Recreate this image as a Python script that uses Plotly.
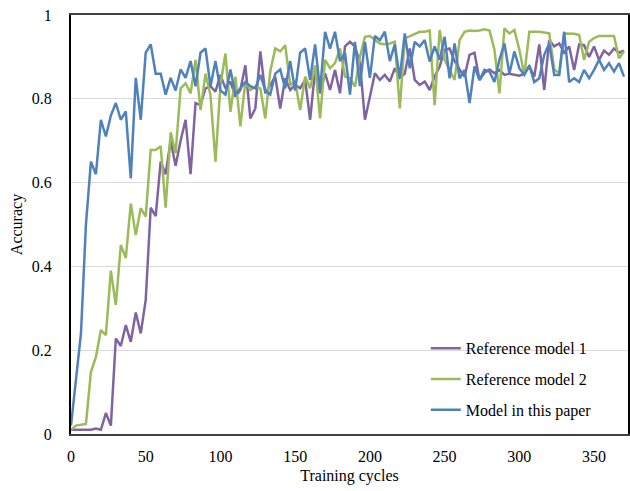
import plotly.graph_objects as go

N = 112
cycles = [round(i * 10 / 3, 2) for i in range(N)]

ref_model_1 = [
    0.01, 0.01, 0.01, 0.01, 0.01, 0.013, 0.01, 0.05, 0.02, 0.228,
    0.21, 0.26, 0.22, 0.29, 0.24, 0.32, 0.54, 0.52, 0.65, 0.62,
    0.70, 0.64, 0.70, 0.75, 0.62, 0.79, 0.785, 0.825, 0.83, 0.817,
    0.857, 0.825, 0.841, 0.805, 0.821, 0.88, 0.753, 0.777, 0.913, 0.813,
    0.833, 0.853, 0.777, 0.849, 0.821, 0.833, 0.825, 0.845, 0.75, 0.869,
    0.813, 0.861, 0.821, 0.869, 0.813, 0.925, 0.936, 0.925, 0.885, 0.75,
    0.805, 0.861, 0.845, 0.857, 0.841, 0.873, 0.85, 0.86, 0.92, 0.845,
    0.833, 0.841, 0.821, 0.853, 0.877, 0.917, 0.92, 0.89, 0.87, 0.853,
    0.905, 0.91, 0.845, 0.862, 0.87, 0.861, 0.869, 0.857, 0.86, 0.857,
    0.855, 0.86, 0.877, 0.853, 0.93, 0.821, 0.94, 0.925, 0.932, 0.91,
    0.925, 0.869, 0.93, 0.928, 0.9, 0.925, 0.893, 0.915, 0.905, 0.92,
    0.91, 0.915,
]

ref_model_2 = [
    0.01, 0.02, 0.022, 0.024, 0.148, 0.184, 0.248, 0.236, 0.39, 0.308,
    0.451, 0.42, 0.55, 0.475, 0.539, 0.519, 0.678, 0.678, 0.687, 0.54,
    0.72, 0.67, 0.825, 0.837, 0.813, 0.893, 0.773, 0.86, 0.809, 0.65,
    0.833, 0.908, 0.769, 0.853, 0.734, 0.841, 0.821, 0.829, 0.825, 0.753,
    0.865, 0.92, 0.913, 0.928, 0.833, 0.841, 0.773, 0.853, 0.825, 0.88,
    0.753, 0.893, 0.873, 0.885, 0.92, 0.853, 0.849, 0.829, 0.90, 0.948,
    0.95, 0.94, 0.932, 0.93, 0.932, 0.936, 0.777, 0.944, 0.95, 0.956,
    0.96, 0.96, 0.963, 0.785, 0.964, 0.893, 0.87, 0.845, 0.94, 0.96,
    0.963, 0.962, 0.963, 0.966, 0.963, 0.917, 0.813, 0.968, 0.956, 0.964,
    0.917, 0.857, 0.96, 0.96, 0.96, 0.958, 0.956, 0.87, 0.861, 0.956,
    0.956, 0.955, 0.952, 0.893, 0.936, 0.945, 0.95, 0.95, 0.95, 0.95,
    0.897, 0.913,
]

model_this_paper = [
    0.02, 0.13, 0.24, 0.5, 0.65, 0.62, 0.75, 0.71, 0.76, 0.79,
    0.75, 0.77, 0.61, 0.85, 0.75, 0.91, 0.93, 0.86, 0.86, 0.81,
    0.85, 0.82, 0.87, 0.85, 0.89, 0.83, 0.91, 0.92, 0.83, 0.89,
    0.82, 0.81, 0.87, 0.81, 0.825, 0.84, 0.83, 0.825, 0.857, 0.82,
    0.81, 0.86, 0.87, 0.825, 0.89, 0.82, 0.91, 0.92, 0.845, 0.93,
    0.82, 0.96, 0.92, 0.96, 0.89, 0.91, 0.81, 0.936, 0.83, 0.936,
    0.85, 0.95, 0.94, 0.96, 0.89, 0.93, 0.85, 0.956, 0.873, 0.936,
    0.925, 0.94, 0.889, 0.925, 0.893, 0.948, 0.849, 0.932, 0.849, 0.869,
    0.79, 0.877, 0.845, 0.869, 0.865, 0.84, 0.893, 0.932, 0.86, 0.913,
    0.873, 0.857, 0.88, 0.84, 0.849, 0.905, 0.932, 0.857, 0.857, 0.96,
    0.84, 0.849, 0.84, 0.869, 0.849, 0.869, 0.893, 0.869, 0.885, 0.865,
    0.885, 0.853,
]

series_names = ["Reference model 1", "Reference model 2", "Model in this paper"]
series_colors = ["#8064a2", "#9bbb59", "#4f81bd"]
series_values = [ref_model_1, ref_model_2, model_this_paper]

x_ticks = [0, 50, 100, 150, 200, 250, 300, 350]
y_ticks = [0, 0.2, 0.4, 0.6, 0.8, 1]
y_tick_text = ["0", "0.2", "0.4", "0.6", "0.8", "1"]

FONT = "Liberation Serif, Times New Roman, serif"

fig = go.Figure()
for name, color, vals in zip(series_names, series_colors, series_values):
    fig.add_trace(go.Scatter(
        x=cycles, y=vals, mode="lines", name=name, legendgroup=name,
        line=dict(color=color, width=2.5),
    ))

fig.update_layout(
    width=630, height=491,
    margin=dict(l=71, r=0, t=15, b=57),
    paper_bgcolor="white", plot_bgcolor="white",
    font=dict(family=FONT, size=16, color="#000000"),
    showlegend=True,
    legend=dict(
        x=0.637, y=0.245, xanchor="left", yanchor="top",
        bgcolor="rgba(0,0,0,0)", font=dict(family=FONT, size=16),
        tracegroupgap=7, itemwidth=30,
    ),
    xaxis=dict(
        range=[0, 372.7], tickvals=x_ticks, showgrid=False, zeroline=False,
        showline=True, linecolor="#404040", linewidth=2, mirror=True,
        ticks="", ticklabelstandoff=7,
        title=dict(text="Training cycles", font=dict(family=FONT, size=16), standoff=6),
    ),
    yaxis=dict(
        range=[0, 1], tickvals=y_ticks, ticktext=y_tick_text,
        showgrid=True, gridcolor="#d9d9d9", gridwidth=1, zeroline=False,
        showline=True, linecolor="#000000", linewidth=2, mirror=True,
        ticks="", ticklabelstandoff=14,
        title=dict(text="Accuracy", font=dict(family=FONT, size=16), standoff=5),
    ),
)

fig.write_html("out.html")
